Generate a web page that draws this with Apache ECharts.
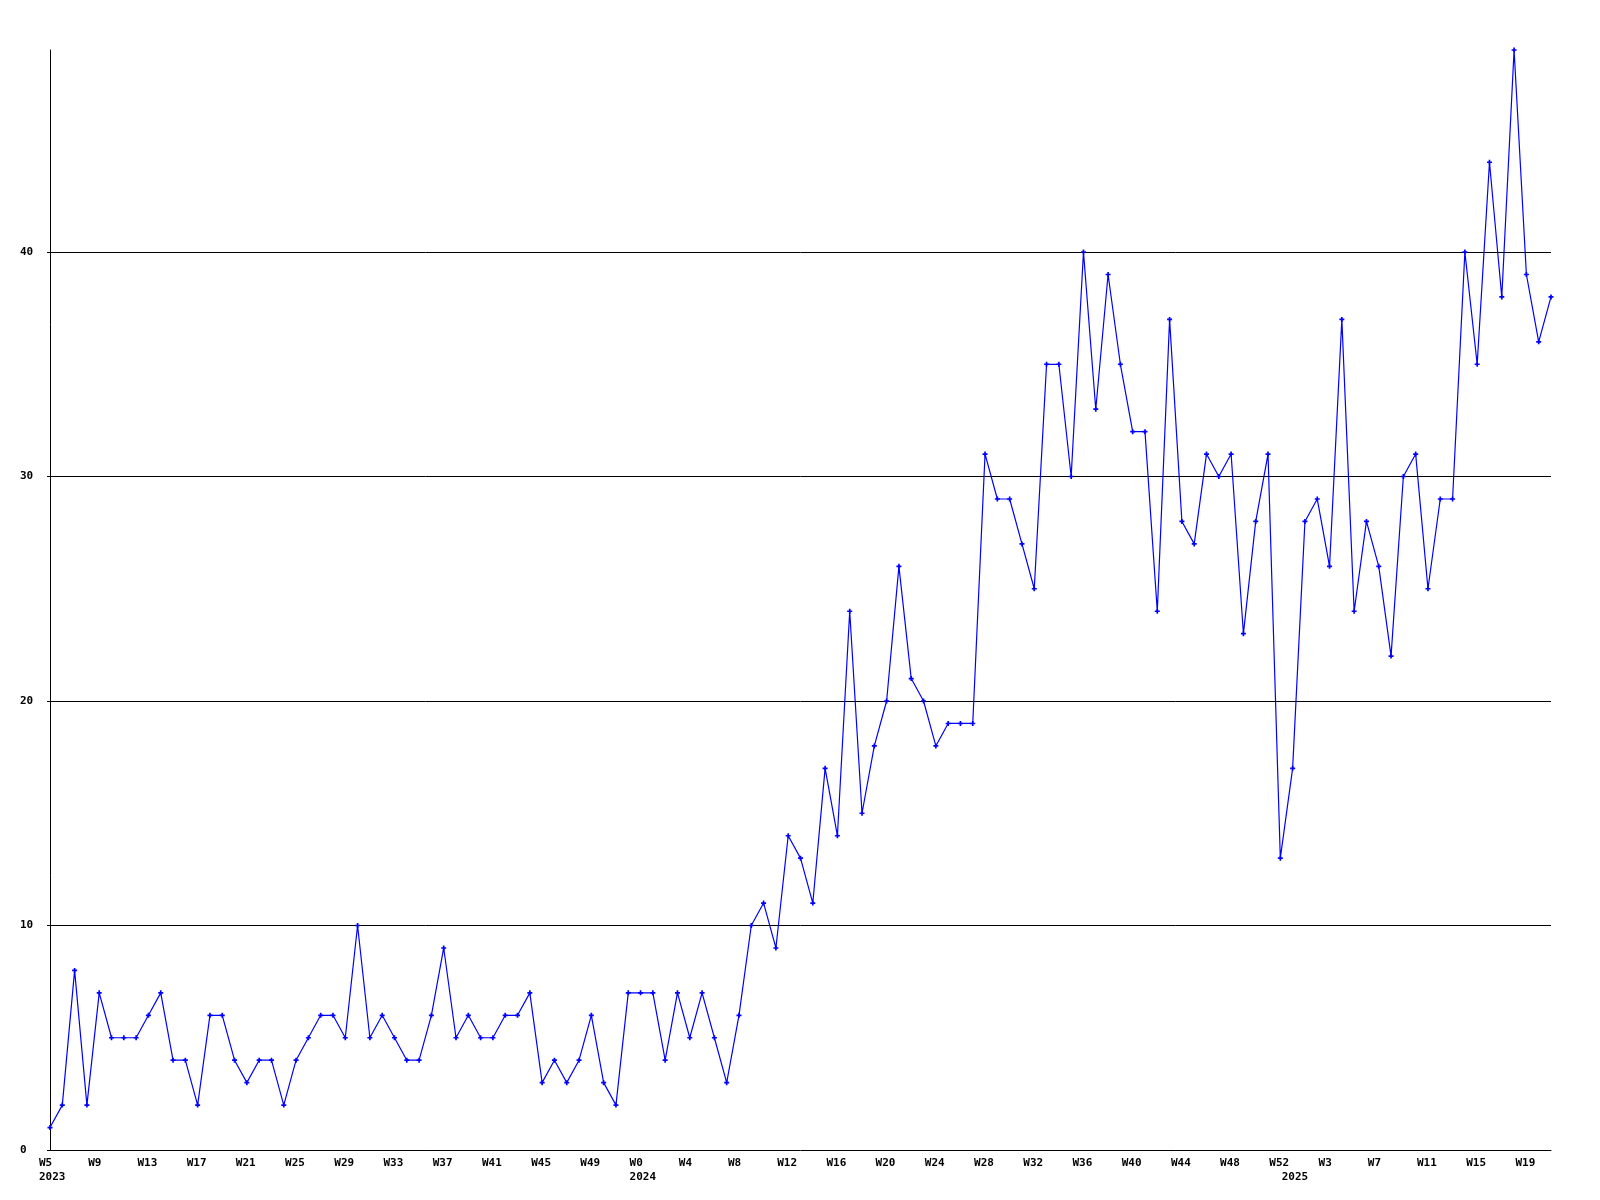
<!DOCTYPE html>
<html>
<head>
<meta charset="utf-8">
<script src="https://cdn.jsdelivr.net/npm/echarts@6/dist/echarts.min.js"></script>
<style>
  html, body { margin: 0; padding: 0; background: #ffffff; }
  #chart { width: 1600px; height: 1200px; }
</style>
</head>
<body>
<div id="chart"></div>
<script>
// Years shown and the week range of each
var years = [2023, 2024, 2025];
var firstWeek = [5, 0, 0];
var lastWeek = [52, 52, 21];

// Weekly values, one array per year
var values2023 = [1,2,8,2,7,5,5,5,6,7,4,4,2,6,6,4,3,4,4,2,4,5,6,6,5,10,5,6,5,4,4,6,9,5,6,5,5,6,6,7,3,4,3,4,6,3,2,7];
var values2024 = [7,7,4,7,5,7,5,3,6,10,11,9,14,13,11,17,14,24,15,18,20,26,21,20,18,19,19,19,31,29,29,27,25,35,35,30,40,33,39,35,32,32,24,37,28,27,31,30,31,23,28,31,13];
var values2025 = [17,28,29,26,37,24,28,26,22,30,31,25,29,29,40,35,44,38,49,39,36,38];

// Y axis ticks
var yMin = 0, yMax = 49, yStep = 10;

var weekLabels = [];
var yearOfIndex = [];
for (var y = 0; y < years.length; y++) {
  for (var w = firstWeek[y]; w <= lastWeek[y]; w++) {
    weekLabels.push('W' + w);
    yearOfIndex.push(w === firstWeek[y] ? String(years[y]) : '');
  }
}
var values = values2023.concat(values2024, values2025);

var FONT = '"DejaVu Sans Mono", "Liberation Mono", monospace';
var richBox = { w: { width: 22, align: 'left', fontFamily: FONT, fontWeight: 'bold', fontSize: 11, color: '#000' } };
var plusMarker = 'path://M2,0L4,0L4,2L6,2L6,4L4,4L4,6L2,6L2,4L0,4L0,2L2,2Z';

var chart = echarts.init(document.getElementById('chart'), null, { renderer: 'canvas' });
chart.setOption({
  animation: false,
  backgroundColor: '#ffffff',
  grid: { left: 50, right: 49, top: 50, bottom: 50, containLabel: false },
  xAxis: [
    {
      type: 'category',
      data: weekLabels,
      boundaryGap: false,
      axisLine: { show: true, lineStyle: { color: '#000', width: 1 } },
      axisTick: { show: false },
      splitLine: { show: false },
      axisLabel: {
        interval: 3,
        margin: 8,
        formatter: function (v) { return '{w|' + v + '}'; },
        rich: richBox
      }
    },
    {
      type: 'category',
      data: weekLabels,
      position: 'bottom',
      boundaryGap: false,
      axisLine: { show: false },
      axisTick: { show: false },
      splitLine: { show: false },
      axisLabel: {
        margin: 22,
        interval: function (i) { return yearOfIndex[i] !== ''; },
        formatter: function (v, i) { return '{w|' + yearOfIndex[i] + '}'; },
        rich: richBox
      }
    }
  ],
  yAxis: {
    type: 'value',
    min: yMin,
    max: yMax,
    interval: yStep,
    axisLine: { show: true, lineStyle: { color: '#000', width: 1 } },
    axisTick: { show: true, length: 3, lineStyle: { color: '#000' } },
    splitLine: { show: true, showMinLine: false, showMaxLine: false, lineStyle: { color: '#000', width: 1 } },
    axisLabel: {
      align: 'left',
      margin: 30,
      showMaxLabel: false,
      fontFamily: FONT,
      fontWeight: 'bold',
      fontSize: 11,
      color: '#000'
    }
  },
  series: [{
    type: 'line',
    data: values,
    xAxisIndex: 0,
    symbol: plusMarker,
    symbolSize: 5,
    showAllSymbol: true,
    lineStyle: { color: '#0000ff', width: 1.2 },
    itemStyle: { color: '#0000ff' },
    clip: true
  }]
});
</script>
</body>
</html>
